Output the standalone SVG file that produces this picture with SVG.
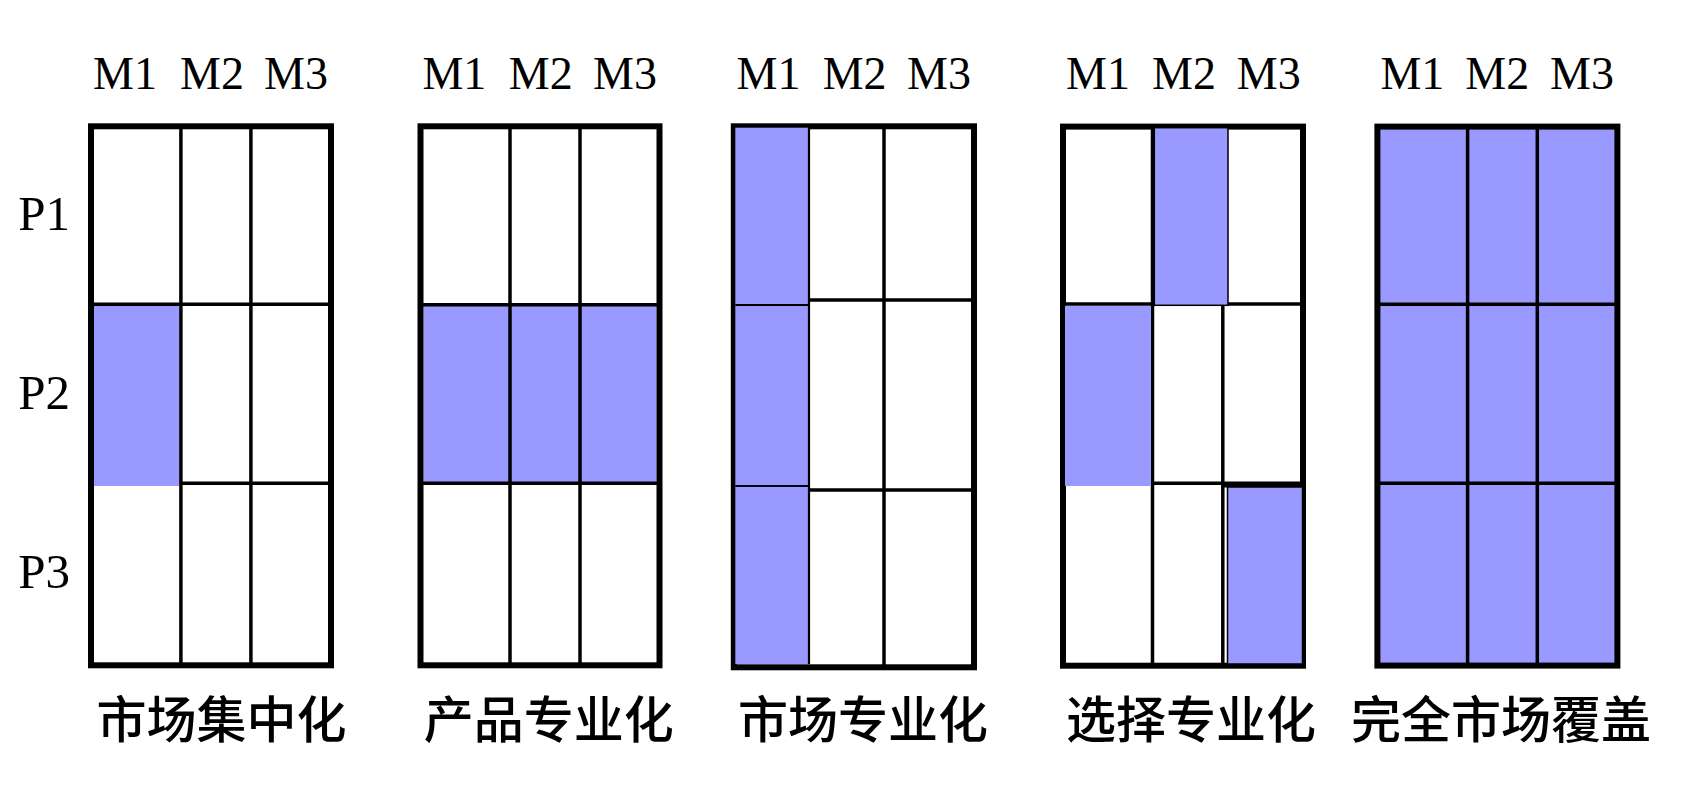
<svg xmlns="http://www.w3.org/2000/svg" width="1704" height="804" viewBox="0 0 1704 804">
<style>
.frame{fill:none;stroke:#000;stroke-width:6}
.ln{stroke:#000;stroke-width:3.5;fill:none}
.thin{stroke:#000;stroke-width:2.2;fill:none}
.hl{fill:#9999ff}
.hls{fill:#9999ff;stroke:#000;stroke-width:1.5}
.m{font-family:"Liberation Serif","Times New Roman",serif;font-size:46px;text-anchor:middle;fill:#000}
.p{font-family:"Liberation Serif","Times New Roman",serif;font-size:49px;fill:#000}
.t{font-family:"Liberation Sans","Noto Sans CJK SC",sans-serif;font-size:50px;font-weight:500;text-anchor:middle;fill:#000}
</style>
<rect width="1704" height="804" fill="#fff"/>
<g id="row-labels">
<text class="p" x="18.3" y="229.5">P1</text>
<text class="p" x="18.3" y="408.5">P2</text>
<text class="p" x="18.3" y="588.3">P3</text>
</g>
<g id="grid1">
<text class="m" x="125" y="89.3">M1</text>
<text class="m" x="212" y="89.3">M2</text>
<text class="m" x="296" y="89.3">M3</text>
<rect class="hl" x="93.8" y="306" width="85.4" height="180"/>
<line class="ln" x1="180.9" y1="126" x2="180.9" y2="665"/>
<line class="ln" x1="250.9" y1="126" x2="250.9" y2="665"/>
<line class="ln" x1="91" y1="304.3" x2="331" y2="304.3"/>
<line class="ln" x1="181" y1="483.3" x2="331" y2="483.3"/>
<rect class="frame" x="91" y="126.3" width="240" height="539"/>
<text class="t" x="221.5" y="738">市场集中化</text>
</g>
<g id="grid2">
<text class="m" x="454.4" y="89.3">M1</text>
<text class="m" x="540.7" y="89.3">M2</text>
<text class="m" x="625" y="89.3">M3</text>
<rect class="hl" x="423.5" y="304.7" width="233" height="178.6"/>
<line class="ln" x1="510" y1="126" x2="510" y2="665"/>
<line class="ln" x1="580" y1="126" x2="580" y2="665"/>
<line class="ln" x1="420.5" y1="304.7" x2="659.5" y2="304.7"/>
<line class="ln" x1="420.5" y1="483.3" x2="659.5" y2="483.3"/>
<rect class="frame" x="420.5" y="126.3" width="239" height="539"/>
<text class="t" x="548.7" y="738">产品专业化</text>
</g>
<g id="grid3">
<text class="m" x="768.5" y="89.3">M1</text>
<text class="m" x="854.6" y="89.3">M2</text>
<text class="m" x="939" y="89.3">M3</text>
<rect class="frame" x="733.8" y="126.3" width="240.2" height="541"/>
<rect class="hl" x="735.3" y="127.7" width="72.7" height="536.3"/>
<line class="thin" x1="735.3" y1="305" x2="808" y2="305"/>
<line class="thin" x1="735.3" y1="486" x2="808" y2="486"/>
<line class="thin" x1="809" y1="127" x2="809" y2="664"/>
<line class="ln" x1="884" y1="126" x2="884" y2="667"/>
<line class="ln" x1="809" y1="300" x2="974" y2="300"/>
<line class="ln" x1="809" y1="490" x2="974" y2="490"/>
<text class="t" x="863" y="738">市场专业化</text>
</g>
<g id="grid4">
<text class="m" x="1098" y="89.3">M1</text>
<text class="m" x="1184" y="89.3">M2</text>
<text class="m" x="1268.8" y="89.3">M3</text>
<line class="ln" x1="1063" y1="304" x2="1303" y2="304"/>
<line class="ln" x1="1152.5" y1="126" x2="1152.5" y2="665"/>
<line class="ln" x1="1222.8" y1="305" x2="1222.8" y2="665"/>
<line class="ln" x1="1152" y1="483.3" x2="1223" y2="483.3"/>
<line class="frame" x1="1223" y1="484.5" x2="1303" y2="484.5"/>
<rect class="frame" x="1063" y="126.6" width="240" height="539.1"/>
<rect class="hls" x="1154.3" y="127.7" width="73.7" height="177.6"/>
<rect class="hl" x="1065" y="306" width="86" height="180"/>
<rect class="hls" x="1227.5" y="487" width="75" height="177"/>
<text class="t" x="1191" y="738">选择专业化</text>
</g>
<g id="grid5">
<text class="m" x="1412.4" y="89.3">M1</text>
<text class="m" x="1497.2" y="89.3">M2</text>
<text class="m" x="1582" y="89.3">M3</text>
<rect class="hl" x="1377.4" y="126.6" width="240" height="539"/>
<line class="ln" x1="1467.6" y1="126" x2="1467.6" y2="665"/>
<line class="ln" x1="1537.3" y1="126" x2="1537.3" y2="665"/>
<line class="ln" x1="1377.4" y1="304.3" x2="1617.4" y2="304.3"/>
<line class="ln" x1="1377.4" y1="483.3" x2="1617.4" y2="483.3"/>
<rect class="frame" x="1377.4" y="126.6" width="240" height="539"/>
<text class="t" x="1501" y="738">完全市场覆盖</text>
</g>
</svg>
